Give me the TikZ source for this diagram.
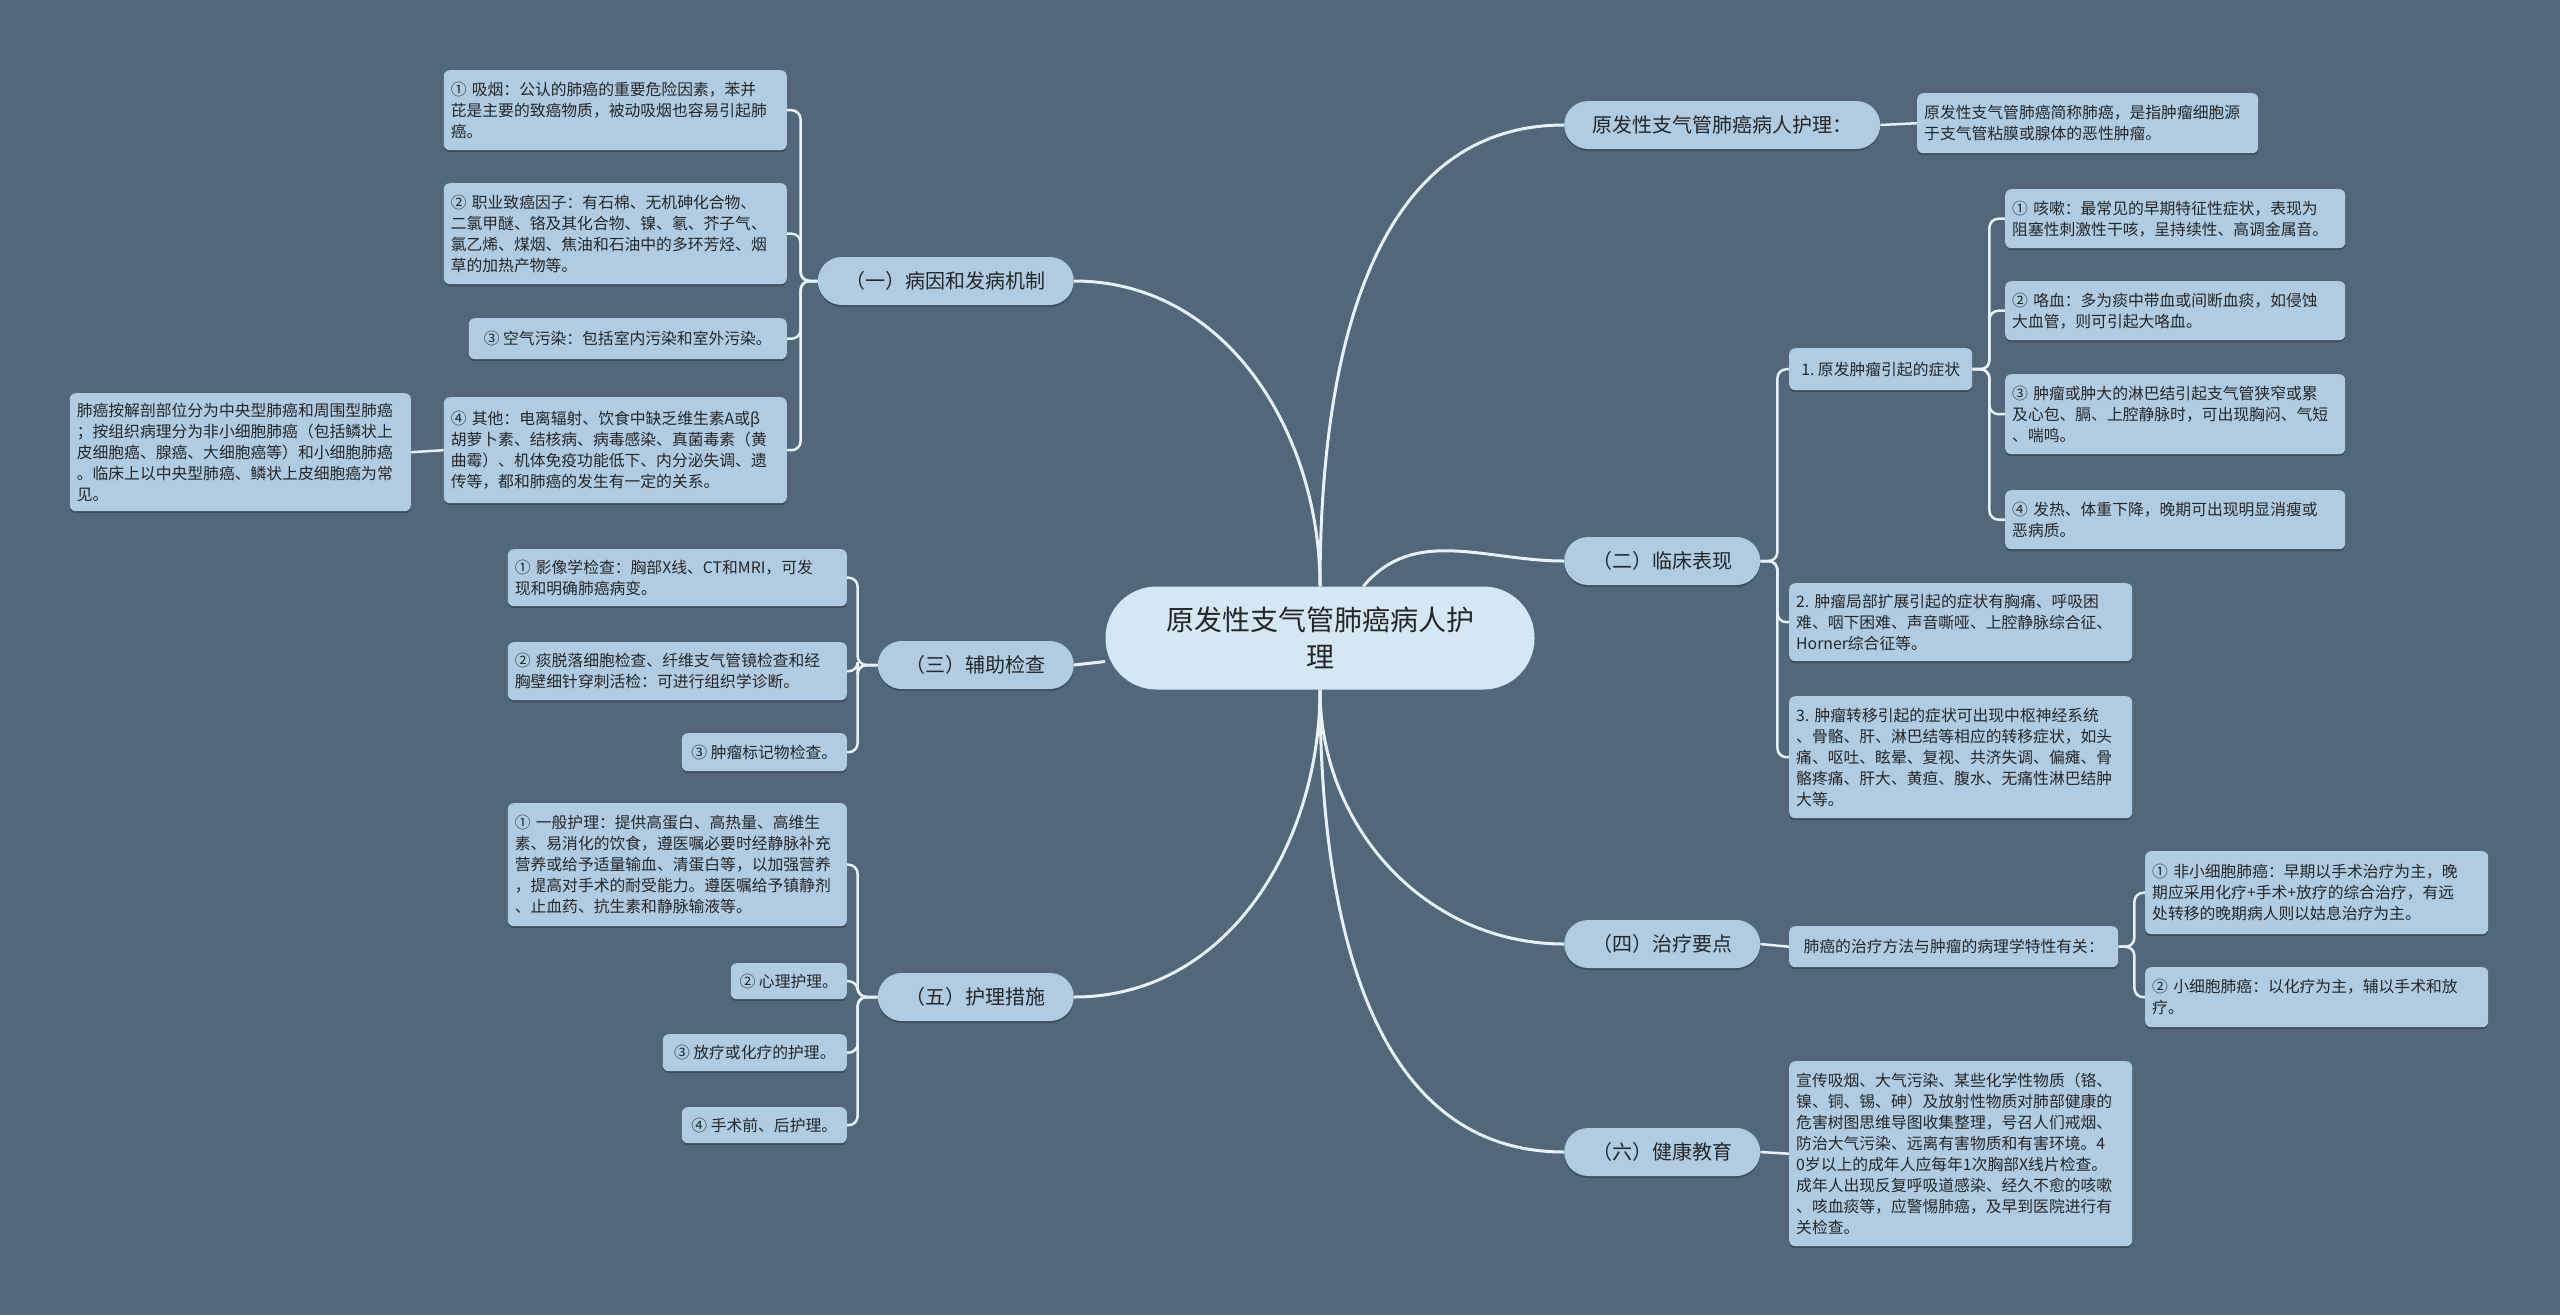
\documentclass[tikz,border=0pt]{standalone}
\usepackage{fontspec}
\newfontfamily\cjk{Noto Sans CJK SC}
\usepackage{xcolor}
\usetikzlibrary{backgrounds, shadows}
\definecolor{slate}{HTML}{52687A}
\definecolor{leafblue}{HTML}{AFCCE2}
\definecolor{rootblue}{HTML}{D3E8F4}
\definecolor{ink}{HTML}{262626}
\definecolor{wire}{HTML}{E8F1F6}

\begin{document}
\begin{tikzpicture}[x=1pt, y=-1pt,
    root/.style={rounded corners=51pt, fill=rootblue, text=ink,
                 font=\cjk\fontsize{28}{37}\selectfont, align=center,
                 minimum width=429pt, minimum height=103pt, inner sep=0pt},
    topic/.style={rounded corners=24pt, fill=leafblue, text=ink,
                  font=\cjk\fontsize{20}{24}\selectfont, minimum height=48pt,
                  inner xsep=28pt, inner ysep=0pt,
                  drop shadow={shadow xshift=0pt, shadow yshift=-2pt, opacity=.25, fill=black}},
    note/.style={rounded corners=6pt, fill=leafblue, text=ink,
                 font=\cjk\fontsize{15.8}{21}\selectfont, align=left,
                 inner xsep=7pt, inner ysep=6pt,
                 drop shadow={shadow xshift=0pt, shadow yshift=-2pt, opacity=.25, fill=black}},
    lnote/.style={note, anchor=north east},
    rnote/.style={note, anchor=north west},
    trunk/.style={draw=wire, line width=3pt},
    twig/.style={draw=wire, line width=2.5pt, rounded corners=9pt},
]
\useasboundingbox (0,0) rectangle (2560,1315);

% ─── Root ────────────────────────────────────────────────────────
\node[root] (C) at (1320,638) {原发性支气管肺癌病人护\\理};

% ─── Left topics ─────────────────────────────────────────────────
\node[topic, anchor=east] (L1) at (1074,281) {（一）病因和发病机制};
\node[topic, anchor=east] (L3) at (1074,665) {（三）辅助检查};
\node[topic, anchor=east] (L5) at (1074,997) {（五）护理措施};

% ─── Right topics ────────────────────────────────────────────────
\node[topic, anchor=west] (R0) at (1564,125) {原发性支气管肺癌病人护理：};
\node[topic, anchor=west] (R2) at (1564,561) {（二）临床表现};
\node[topic, anchor=west] (R4) at (1564,944) {（四）治疗要点};
\node[topic, anchor=west] (R6) at (1564,1152) {（六）健康教育};

% ─── (一) causes ─────────────────────────────────────────────────
\node[lnote, text width=329pt, minimum height=80pt] (A1) at (787,70)
  {①~吸烟：公认的肺癌的重要危险因素，苯并\\芘是主要的致癌物质，被动吸烟也容易引起肺\\癌。};
\node[lnote, text width=329pt, minimum height=101pt] (A2) at (787,183)
  {②~职业致癌因子：有石棉、无机砷化合物、\\二氯甲醚、铬及其化合物、镍、氡、芥子气、\\氯乙烯、煤烟、焦油和石油中的多环芳烃、烟\\草的加热产物等。};
\node[lnote, minimum width=318pt, minimum height=41pt] (A3) at (787,318)
  {③~空气污染：包括室内污染和室外污染。};
\node[lnote, text width=329pt, minimum height=106pt] (A4) at (787,397)
  {④~其他：电离辐射、饮食中缺乏维生素A或β\\胡萝卜素、结核病、病毒感染、真菌毒素（黄\\曲霉）、机体免疫功能低下、内分泌失调、遗\\传等，都和肺癌的发生有一定的关系。};
\node[lnote, text width=327pt, minimum height=118pt] (B) at (411,393)
  {肺癌按解剖部位分为中央型肺癌和周围型肺癌\\；按组织病理分为非小细胞肺癌（包括鳞状上\\皮细胞癌、腺癌、大细胞癌等）和小细胞肺癌\\。临床上以中央型肺癌、鳞状上皮细胞癌为常\\见。};

% ─── (三) checks ──────────────────────────────────────────────────
\node[lnote, text width=325pt, minimum height=57pt] (G1) at (847,549)
  {①~影像学检查：胸部X线、CT和MRI，可发\\现和明确肺癌病变。};
\node[lnote, text width=325pt, minimum height=58pt] (G2) at (847,642)
  {②~痰脱落细胞检查、纤维支气管镜检查和经\\胸壁细针穿刺活检：可进行组织学诊断。};
\node[lnote, minimum width=165pt, minimum height=38pt] (G3) at (847,733) {③~肿瘤标记物检查。};

% ─── (五) nursing ────────────────────────────────────────────────
\node[lnote, text width=325pt, minimum height=123pt] (H1) at (847,803)
  {①~一般护理：提供高蛋白、高热量、高维生\\素、易消化的饮食，遵医嘱必要时经静脉补充\\营养或给予适量输血、清蛋白等，以加强营养\\，提高对手术的耐受能力。遵医嘱给予镇静剂\\、止血药、抗生素和静脉输液等。};
\node[lnote, minimum width=116pt, minimum height=36pt] (H2) at (847,963) {②~心理护理。};
\node[lnote, minimum width=184pt, minimum height=37pt] (H3) at (847,1034) {③~放疗或化疗的护理。};
\node[lnote, minimum width=165pt, minimum height=36pt] (H4) at (847,1107) {④~手术前、后护理。};

% ─── definition ──────────────────────────────────────────────────
\node[rnote, text width=327pt, minimum height=60pt] (R0c) at (1917,93)
  {原发性支气管肺癌简称肺癌，是指肿瘤细胞源\\于支气管粘膜或腺体的恶性肿瘤。};

% ─── (二) symptoms ───────────────────────────────────────────────
\node[rnote, minimum width=183pt, minimum height=42pt] (C1) at (1789,348) {1.~原发肿瘤引起的症状};
\node[rnote, text width=329pt, minimum height=78pt] (C2) at (1789,583)
  {2.~肿瘤局部扩展引起的症状有胸痛、呼吸困\\难、咽下困难、声音嘶哑、上腔静脉综合征、\\Horner综合征等。};
\node[rnote, text width=329pt, minimum height=122pt] (C3) at (1789,696)
  {3.~肿瘤转移引起的症状可出现中枢神经系统\\、骨骼、肝、淋巴结等相应的转移症状，如头\\痛、呕吐、眩晕、复视、共济失调、偏瘫、骨\\骼疼痛、肝大、黄疸、腹水、无痛性淋巴结肿\\大等。};

\node[rnote, text width=326pt, minimum height=59pt] (D1) at (2005,189)
  {①~咳嗽：最常见的早期特征性症状，表现为\\阻塞性刺激性干咳，呈持续性、高调金属音。};
\node[rnote, text width=326pt, minimum height=59pt] (D2) at (2005,281)
  {②~咯血：多为痰中带血或间断血痰，如侵蚀\\大血管，则可引起大咯血。};
\node[rnote, text width=326pt, minimum height=80pt] (D3) at (2005,374)
  {③~肿瘤或肿大的淋巴结引起支气管狭窄或累\\及心包、膈、上腔静脉时，可出现胸闷、气短\\、喘鸣。};
\node[rnote, text width=326pt, minimum height=59pt] (D4) at (2005,490)
  {④~发热、体重下降，晚期可出现明显消瘦或\\恶病质。};

% ─── (四) treatment ──────────────────────────────────────────────
\node[rnote, minimum width=329pt, minimum height=41pt] (E) at (1789,926) {肺癌的治疗方法与肿瘤的病理学特性有关：};
\node[rnote, text width=329pt, minimum height=83pt] (E1) at (2145,851)
  {①~非小细胞肺癌：早期以手术治疗为主，晚\\期应采用化疗+手术+放疗的综合治疗，有远\\处转移的晚期病人则以姑息治疗为主。};
\node[rnote, text width=329pt, minimum height=60pt] (E2) at (2145,967)
  {②~小细胞肺癌：以化疗为主，辅以手术和放\\疗。};

% ─── (六) education ──────────────────────────────────────────────
\node[rnote, text width=329pt, minimum height=185pt] (F) at (1789,1061)
  {宣传吸烟、大气污染、某些化学性物质（铬、\\镍、铜、锡、砷）及放射性物质对肺部健康的\\危害树图思维导图收集整理，号召人们戒烟、\\防治大气污染、远离有害物质和有害环境。4\\0岁以上的成年人应每年1次胸部X线片检查。\\成年人出现反复呼吸道感染、经久不愈的咳嗽\\、咳血痰等，应警惕肺癌，及早到医院进行有\\关检查。};

% ─── Connectors (behind the boxes) ───────────────────────────────
\begin{scope}[on background layer]
  \fill[slate] (0,0) rectangle (2560,1315);

  \draw[trunk] (C) to[out=90, in=0] (L1.east);
  \draw[trunk] (C) to[out=90, in=180] (R0.west);
  \draw[trunk] (C) to[out=50, in=180] (R2.west);
  \draw[trunk] (C) -- (L3.east);
  \draw[trunk] (C) to[out=270, in=0] (L5.east);
  \draw[trunk] (C) to[out=270, in=180] (R4.west);
  \draw[trunk] (C) to[out=270, in=180] (R6.west);

  \foreach \k in {A1,A2,A3,A4}
    \draw[twig] (L1.west) -- ++(-17,0) |- (\k.east);
  \draw[twig] (A4.west) -- (B.east);
  \foreach \k in {G1,G2,G3}
    \draw[twig] (L3.west) -- ++(-20,0) |- (\k.east);
  \foreach \k in {H1,H2,H3,H4}
    \draw[twig] (L5.west) -- ++(-20,0) |- (\k.east);

  \draw[twig] (R0.east) -- (R0c.west);
  \foreach \k in {C1,C2,C3}
    \draw[twig] (R2.east) -- ++(17,0) |- (\k.west);
  \foreach \k in {D1,D2,D3,D4}
    \draw[twig] (C1.east) -- ++(17,0) |- (\k.west);
  \draw[twig] (R4.east) -- (E.west);
  \foreach \k in {E1,E2}
    \draw[twig] (E.east) -- ++(16,0) |- (\k.west);
  \draw[twig] (R6.east) -- (F.west);
\end{scope}

\end{tikzpicture}
\end{document}
